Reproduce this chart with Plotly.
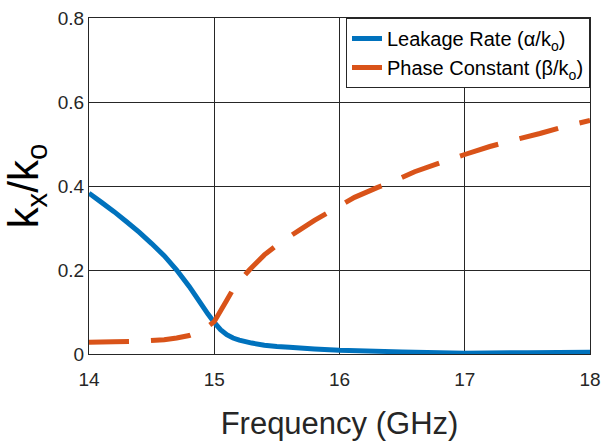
import plotly.graph_objects as go

freq_alpha = [14.0, 14.1, 14.2, 14.3, 14.4, 14.5, 14.6, 14.7, 14.8, 14.85, 14.9, 14.95, 15.0,
              15.05, 15.1, 15.15, 15.2, 15.3, 15.4, 15.5, 15.6, 15.8, 16.0, 16.5, 17.0, 17.5, 18.0]
alpha = [0.383, 0.361, 0.339, 0.315, 0.290, 0.263, 0.234, 0.200, 0.161, 0.139, 0.117, 0.095, 0.075,
         0.058, 0.046, 0.038, 0.033, 0.026, 0.021, 0.018, 0.016, 0.012, 0.009, 0.005, 0.002, 0.003, 0.004]

freq_beta = [14.0, 14.2, 14.4, 14.6, 14.7, 14.8, 14.9, 15.0, 15.1, 15.15, 15.2, 15.28, 15.4,
             15.52, 15.68, 15.8, 15.95, 16.12, 16.3, 16.42, 16.6, 16.8, 17.0, 17.2, 17.4,
             17.6, 17.8, 18.0]
beta = [0.028, 0.029, 0.030, 0.034, 0.038, 0.044, 0.055, 0.077, 0.128, 0.154, 0.173, 0.2, 0.236,
        0.264, 0.295, 0.318, 0.344, 0.373, 0.396, 0.41, 0.434, 0.455, 0.475, 0.494, 0.51,
        0.525, 0.542, 0.556]

x_ticks = [14, 15, 16, 17, 18]
y_ticks = [0, 0.2, 0.4, 0.6, 0.8]
y_tick_labels = ["0", "0.2", "0.4", "0.6", "0.8"]

FONT = "Liberation Sans, Arial, Helvetica, sans-serif"
TXT = "#262626"

fig = go.Figure()
fig.add_trace(go.Scatter(
    x=freq_alpha, y=alpha, mode="lines",
    name="Leakage Rate (α/k<sub>o</sub>)",
    line=dict(color="#0072BD", width=5, simplify=False),
))
fig.add_trace(go.Scatter(
    x=freq_beta, y=beta, mode="lines",
    name="Phase Constant (β/k<sub>o</sub>)",
    line=dict(color="#D95319", width=5, dash="40px,22px", simplify=False),
))

axis_common = dict(
    showgrid=True, gridcolor="#262626", gridwidth=1,
    showline=True, linecolor="#262626", linewidth=1, mirror=True,
    zeroline=False, ticks="", automargin=False,
    tickfont=dict(family=FONT, size=19, color=TXT),
)

fig.update_layout(
    width=610, height=441,
    margin=dict(l=89, r=20, t=18, b=87),
    paper_bgcolor="white", plot_bgcolor="white",
    font=dict(family=FONT, color=TXT),
    showlegend=True,
    legend=dict(
        x=1, y=1, xanchor="right", yanchor="top",
        bgcolor="white", bordercolor="#262626", borderwidth=1,
        font=dict(family=FONT, size=20, color="black"),
        tracegroupgap=0,
    ),
    xaxis=dict(
        range=[14, 18], tickvals=x_ticks, ticklabelstandoff=8,
        title=dict(text="Frequency (GHz)", font=dict(family=FONT, size=31, color=TXT), standoff=23),
        **axis_common,
    ),
    yaxis=dict(
        range=[0, 0.8], tickvals=y_ticks, ticktext=y_tick_labels,
        title=dict(text="k<sub>x</sub>/k<sub>o</sub>", font=dict(family=FONT, size=42, color="black"), standoff=11),
        **axis_common,
    ),
)

fig.write_html(
    "out.html",
    config={"displayModeBar": False},
    post_script="document.body.style.margin='0';document.body.style.overflow='hidden';",
)
